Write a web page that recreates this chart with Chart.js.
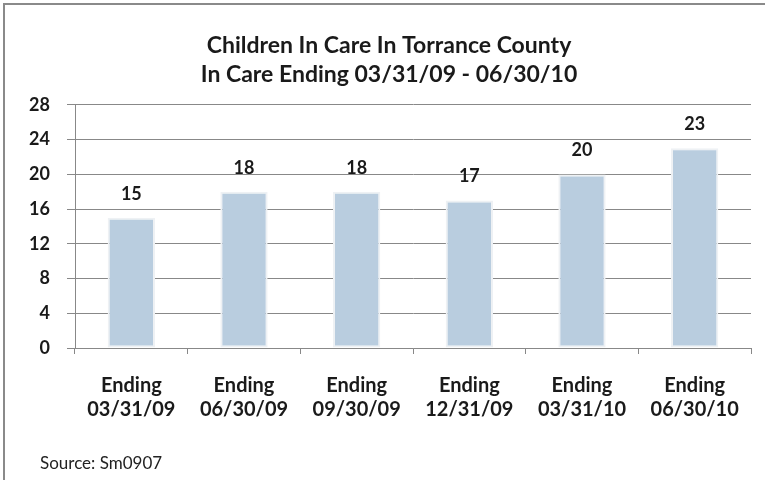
<!DOCTYPE html>
<html>
<head>
<meta charset="utf-8">
<script src="https://cdn.jsdelivr.net/npm/chart.js@4"></script>
<style>
  html, body { margin: 0; padding: 0; background: #fff; overflow: hidden; }
  #wrap { width: 765px; height: 480px; }
</style>
</head>
<body>
<div id="wrap"><canvas id="careChart" width="765" height="480"></canvas></div>
<script>
// data
var categories = [
    ['Ending', '03/31/09'], ['Ending', '06/30/09'], ['Ending', '09/30/09'],
    ['Ending', '12/31/09'], ['Ending', '03/31/10'], ['Ending', '06/30/10']
];
var childrenInCare = [15, 18, 18, 17, 20, 23];
var yTicks = [0, 4, 8, 12, 16, 20, 24, 28];
var titleLines = ['Children In Care In Torrance County', 'In Care Ending 03/31/09 - 06/30/10'];
var sourceNote = 'Source: Sm0907';

var FONT = 'Lato, "Liberation Sans", sans-serif';

// frame, value labels and the source line
var extras = {
    id: 'extras',
    beforeDraw: function(chart) {
        var c = chart.ctx;
        c.save();
        c.fillStyle = '#fff';
        c.fillRect(0, 0, chart.width, chart.height);
        c.strokeStyle = '#8a8a8a';
        c.lineWidth = 2;
        c.strokeRect(4, 4, chart.width + 10, chart.height + 10);
        c.restore();
    },
    afterDatasetsDraw: function(chart) {
        var c = chart.ctx;
        var meta = chart.getDatasetMeta(0);
        c.save();
        c.font = 'bold 18px ' + FONT;
        c.fillStyle = '#1a1a1a';
        c.textAlign = 'center';
        c.textBaseline = 'middle';
        meta.data.forEach(function(bar, i) {
            c.fillText(String(childrenInCare[i]), bar.x, bar.y - 24);
        });
        c.font = '17px ' + FONT;
        c.textAlign = 'left';
        c.fillStyle = '#222';
        c.fillText(sourceNote, 40, 464);
        c.restore();
    }
};

var ctx = document.getElementById('careChart').getContext('2d');
var myChart = new Chart(ctx, {
    type: 'bar',
    data: {
        labels: categories,
        datasets: [{
            label: 'Children In Care',
            data: childrenInCare,
            backgroundColor: '#b9cddf',
            borderColor: '#eef1f4',
            borderWidth: 2,
            borderSkipped: false,
            barPercentage: 0.42,
            categoryPercentage: 1
        }]
    },
    options: {
        responsive: false,
        animation: false,
        layout: { padding: { top: 31, left: 27, right: 14, bottom: 0 } },
        plugins: {
            legend: { display: false },
            tooltip: { enabled: false },
            title: {
                display: true,
                text: titleLines,
                color: '#1a1a1a',
                font: { family: FONT, size: 23, weight: 'bold', lineHeight: 1.26 },
                padding: { top: 0, bottom: 16 }
            }
        },
        scales: {
            x: {
                grid: { display: true, drawOnChartArea: false, offset: true, color: '#888', tickLength: 6 },
                border: { color: '#888' },
                ticks: {
                    color: '#1a1a1a',
                    font: { family: FONT, size: 20, weight: 'bold', lineHeight: 1.2 },
                    padding: 20,
                    maxRotation: 0
                },
                afterFit: function(scale) { scale.height = 132; }
            },
            y: {
                min: 0,
                max: 28,
                afterBuildTicks: function(scale) {
                    scale.ticks = yTicks.map(function(v) { return { value: v }; });
                },
                grid: { color: '#888', tickLength: 8 },
                border: { color: '#888' },
                ticks: {
                    color: '#1a1a1a',
                    font: { family: FONT, size: 18, weight: 'bold' },
                    padding: 17
                },
                afterFit: function(scale) { scale.width = 48; }
            }
        }
    },
    plugins: [extras]
});
</script>
</body>
</html>
